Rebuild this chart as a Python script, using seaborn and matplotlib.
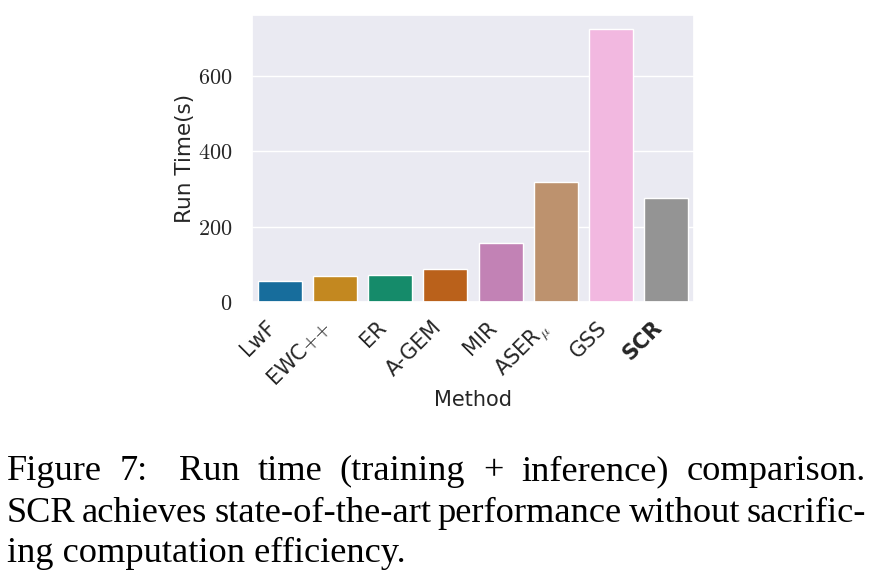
#!/usr/bin/env python3
"""Run time comparison bar chart (training + inference) with the figure caption."""

import pandas as pd
import matplotlib
matplotlib.use("Agg")
import matplotlib.pyplot as plt
import seaborn as sns

# ============================================================================
# DATA
# ============================================================================

methods = ["LwF", "EWC++", "ER", "A-GEM", "MIR", "ASER_mu", "GSS", "SCR"]
tick_labels = ["LwF", r"EWC${+}{+}$", "ER", "A-GEM", "MIR", r"ASER$_\mu$", "GSS", "SCR"]
run_time = [57, 70, 72, 88, 157, 318, 725, 276]

y_ticks = [0, 200, 400, 600]

caption_lines = [
    "Figure 7: Run time (training + inference) comparison.",
    "SCR achieves state-of-the-art performance without sacrific-",
    "ing computation efficiency.",
]

# ============================================================================
# CONFIGURATION
# ============================================================================

W, H = 873, 583
sns.set_theme(style="darkgrid", palette="colorblind")
plt.rcParams["mathtext.fontset"] = "cm"
plt.rcParams["font.family"] = ["DejaVu Sans"]


def justify_line(fig, text, y_px, x0_px, x1_px, **kw):
    """Place the words of one caption line so it fills x0..x1 (pixels)."""
    words = text.split()
    renderer = fig.canvas.get_renderer()
    texts = [fig.text(0, 1 - y_px / H, w, ha="left", va="baseline", **kw) for w in words]
    widths = [t.get_window_extent(renderer).width for t in texts]
    weights = [1.7 if w.endswith(":") else 1.0 for w in words[:-1]]
    unit = (x1_px - x0_px - sum(widths)) / sum(weights)
    x = x0_px
    for i, (t, w) in enumerate(zip(texts, widths)):
        t.set_x(x / W)
        if i < len(weights):
            x += w + unit * weights[i]


# ============================================================================
# PLOT
# ============================================================================

fig = plt.figure(figsize=(W / 100, H / 100), dpi=100)
ax = fig.add_axes([252 / W, 1 - 302 / H, (694 - 252) / W, (302 - 15) / H])

df = pd.DataFrame({"Method": methods, "Run Time(s)": run_time})
sns.barplot(data=df, x="Method", y="Run Time(s)", hue="Method",
            palette="colorblind", legend=False, ax=ax)

ax.set_yticks(y_ticks)
ax.set_yticklabels([f"${v}$" for v in y_ticks], fontsize=16)
ax.tick_params(axis="y", pad=8)
ax.set_xticks(range(len(methods)))
ax.set_xticklabels(tick_labels, rotation=45, ha="right", fontsize=15)
ax.tick_params(axis="x", pad=5)
ax.get_xticklabels()[-1].set_fontweight("bold")

ax.set_xlabel("Method", fontsize=15, labelpad=0)
ax.set_ylabel("Run Time(s)", fontsize=15.5, labelpad=2)

# caption
cap_kw = dict(fontsize=26.2, family=["Liberation Serif", "DejaVu Serif"], color="black")
justify_line(fig, caption_lines[0], 480, 7, 866, **cap_kw)
justify_line(fig, caption_lines[1], 522, 7, 866, **cap_kw)
fig.text(7 / W, 1 - 562 / H, caption_lines[2], ha="left", va="baseline", **cap_kw)

fig.savefig("out.png", dpi=100)
